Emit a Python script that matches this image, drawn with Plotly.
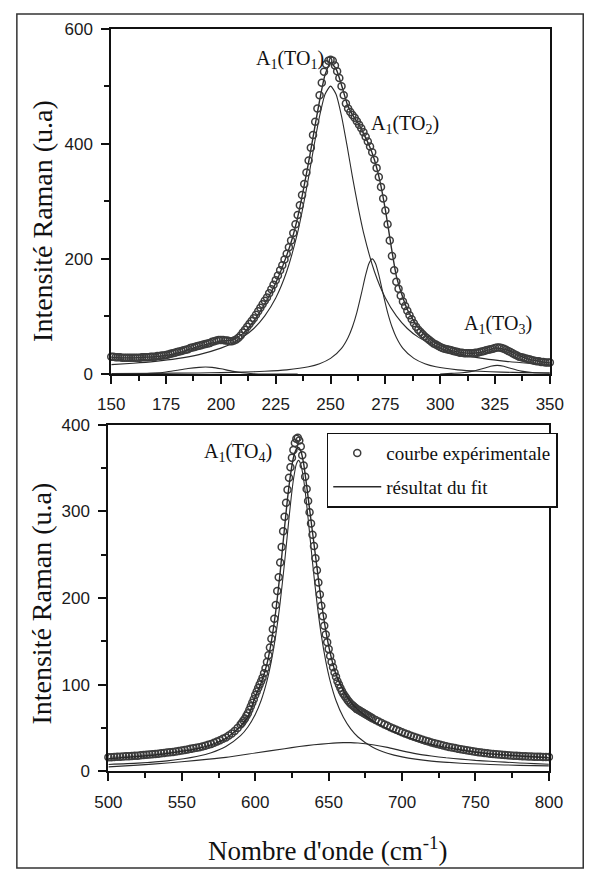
import plotly.graph_objects as go

# ---------------- top panel data (150-350 cm-1) ----------------
top_exp_x = list(range(150, 351))
top_exp_y = [
    30, 30, 29, 29, 29, 28, 28, 28, 28, 28,
    28, 28, 28, 28, 29, 29, 29, 29, 30, 30,
    30, 31, 31, 32, 32, 33, 34, 35, 36, 37,
    38, 39, 40, 41, 42, 43, 45, 46, 47, 48,
    49, 50, 51, 52, 53, 54, 56, 57, 58, 59,
    59, 59, 58, 58, 57, 57, 58, 60, 63, 67,
    72, 77, 82, 87, 92, 97, 103, 109, 115, 121,
    127, 133, 140, 147, 155, 163, 171, 180, 189, 199,
    209, 220, 232, 245, 260, 276, 293, 311, 330, 350,
    371, 393, 415, 438, 461, 484, 506, 525, 538, 544,
    546, 544, 536, 526, 514, 500, 484, 470, 461, 455,
    450, 445, 439, 433, 427, 420, 412, 404, 395, 385,
    372, 358, 342, 325, 305, 284, 260, 232, 205, 180,
    160, 148, 136, 126, 118, 110, 102, 95, 88, 82,
    77, 73, 69, 65, 62, 59, 56, 53, 51, 49,
    47, 45, 44, 43, 42, 41, 40, 39, 38, 37,
    37, 36, 36, 36, 36, 36, 37, 37, 38, 39,
    40, 41, 42, 43, 44, 45, 46, 46, 45, 44,
    42, 40, 38, 36, 34, 32, 30, 29, 28, 27,
    26, 25, 24, 23, 22, 22, 21, 21, 20, 20,
    20,
]

top_fit_x = [150, 155, 160, 165, 170, 175, 180, 185, 190, 195, 200, 205, 210, 215, 220, 225, 230,
             232.5, 235, 237.5, 240, 242.5, 245, 247.5, 250, 252.5, 255, 257.5, 260, 262.5, 265,
             267.5, 270, 272.5, 275, 277.5, 280, 282.5, 285, 287.5, 290,
             295, 300, 305, 310, 315, 320, 325, 330, 335, 340, 345, 350]
top_fit_y = [29, 28, 28, 29, 30, 32, 36, 42, 48, 53, 57, 59, 70, 92, 122, 158, 206,
             235, 272, 318, 368, 422, 475, 520, 540, 530, 502, 470, 450, 436, 418,
             398, 372, 335, 285, 225, 170, 138, 112, 95, 80,
             62, 49, 41, 37, 36, 39, 45, 42, 33, 26, 22, 19]

top_p1_x = [150, 160, 170, 180, 190, 200, 205, 210, 215, 220, 225, 230, 235, 237.5, 240, 242.5,
            245, 247.5, 250, 252.5, 255, 257.5, 260, 262.5, 265, 270, 275, 280, 285, 290,
            300, 310, 320, 330, 340, 350]
top_p1_y = [16.3, 18.7, 21.9, 26.6, 33.6, 44.9, 53, 64, 79, 101, 132, 178, 246, 291, 342, 397,
            448, 486, 500, 486, 448, 397, 342, 291, 246, 178, 132, 101, 79, 64,
            45, 33.6, 26.6, 21.9, 18.7, 16.3]

top_p2_x = [150, 170, 190, 200, 210, 220, 230, 240, 245, 250, 255, 258, 260, 262, 264, 266,
            267.5, 269, 270.5, 272, 274, 276, 278, 280, 283, 288, 293, 298, 308, 318, 328, 338, 350]
top_p2_y = [0.8, 1.1, 1.8, 2.3, 3.2, 4.6, 7.1, 12.5, 17.8, 27, 44.6, 63.5, 82, 107, 138.5, 172,
            192, 200, 192, 172, 138.5, 107, 82, 63.5, 44.6, 27, 17.8, 12.5, 7.1, 4.6, 3.2, 2.3, 1.7]

top_p0_x = [150, 165, 170, 175, 180, 185, 190, 193, 196, 200, 205, 210, 215, 220, 235]
top_p0_y = [0, 0.5, 1.5, 3.5, 6.5, 9.5, 11.5, 12, 11.5, 9, 5, 2, 0.5, 0, 0]

top_p3_x = [300, 305, 310, 315, 320, 323, 326, 329, 332, 337, 342, 350]
top_p3_y = [0, 1, 2, 5, 10, 13.5, 15, 13.5, 10, 5, 2.5, 1.5]

# ---------------- bottom panel data (500-800 cm-1) ----------------
bot_exp_x = list(range(500, 591, 2)) + list(range(591, 681)) + list(range(682, 801, 2))
bot_exp_y = [
    # 500-590 step 2
    16, 16.2, 16.4, 16.6, 16.8, 17, 17.2, 17.4, 17.6, 17.8,
    18, 18.4, 18.8, 19.1, 19.3, 19.5, 19.9, 20.3, 20.7, 21.1,
    21.5, 21.9, 22.3, 22.8, 23.4, 24, 24.6, 25.2, 25.8, 26.4,
    27, 27.8, 28.6, 29.5, 30.5, 31.5, 32.8, 34.2, 35.8, 37.4,
    39, 41.2, 43.6, 46.5, 50, 54,
    # 591-680 step 1
    56, 58.5, 61, 64, 67, 71, 75, 79, 83, 88,
    92, 96, 100, 104, 108, 113, 119, 126, 134, 143,
    153, 164, 176, 192, 208, 224, 241, 259, 277, 294,
    310, 325, 339, 351, 362, 371, 379, 384, 385, 382,
    375, 365, 353, 340, 326, 312, 299, 286, 273, 260,
    246, 232, 218, 204, 191, 179, 168, 158, 149, 141,
    133, 126, 120, 114, 109, 104, 100, 96, 92.5, 89.5,
    87, 84.5, 82, 80, 78, 76.5, 75, 73.5, 72, 71,
    70, 69, 68, 67, 66, 65, 64, 63, 62, 61,
    # 682-800 step 2
    59.2, 57.4, 55.7, 54, 52.4, 50.8, 49.3, 47.8, 46.4, 45,
    43.6, 42.3, 41, 39.8, 38.6, 37.4, 36.3, 35.2, 34.2, 33.2,
    32.3, 31.4, 30.5, 29.7, 28.9, 28.1, 27.4, 26.7, 26, 25.3,
    24.7, 24.1, 23.5, 23, 22.5, 22, 21.5, 21.1, 20.7, 20.3,
    19.9, 19.6, 19.3, 19, 18.7, 18.4, 18.2, 18, 17.8, 17.6,
    17.4, 17.2, 17, 16.9, 16.8, 16.7, 16.6, 16.5, 16.4, 16.3,
]

bot_comp_x = [500, 520, 540, 560, 570, 580, 590, 595, 600, 604, 608, 611, 614, 617, 620, 622, 624,
              626, 628, 629.5, 631, 633, 635, 637, 639, 642, 645, 648, 651, 655, 660, 665, 670,
              680, 690, 700, 720, 740, 760, 780, 800]
bot_sharp_y = [7.8, 9.3, 11.9, 16.9, 21.4, 28.6, 41.1, 51.1, 65.5, 81.7, 104.4, 127.4, 157.1,
               195.2, 241.4, 275.3, 308.5, 336.6, 354.7, 359, 354.7, 336.6, 308.5, 275.3, 241.4,
               195.2, 157.1, 127.4, 104.4, 81.7, 62.2, 48.9, 39.5, 27.7, 20.8, 16.6, 11.7, 9.2,
               7.8, 6.8, 6.2]
bot_fit_y = [14.5, 17, 20.5, 26, 30.5, 38, 52, 63, 86, 102, 124, 150, 185, 230, 282, 315, 342,
             362, 372, 374, 370, 355, 330, 303, 276, 236, 196, 163, 137, 112, 93, 80, 71,
             58, 49, 41.5, 31, 24.5, 20, 17.5, 15.5]

bot_broad_x = [500, 520, 540, 560, 580, 600, 620, 630, 640, 650, 660, 665, 670, 680, 690, 700,
               710, 720, 730, 740, 750, 760, 770, 780, 790, 800]
bot_broad_y = [5, 7, 9.5, 12.5, 16, 21, 26, 28.5, 30.5, 32, 33, 33, 32.5, 30.5, 27.5, 23.5,
               20, 17.5, 15.5, 14, 12.5, 11.5, 10.5, 9.5, 8.8, 8]

# ---------------- text ----------------
y_title = "Intensité Raman (u.a)"
x_title = "Nombre d'onde (cm<sup>-1</sup>)"
peak_labels = ["A<sub>1</sub>(TO<sub>1</sub>)", "A<sub>1</sub>(TO<sub>2</sub>)",
               "A<sub>1</sub>(TO<sub>3</sub>)", "A<sub>1</sub>(TO<sub>4</sub>)"]
legend_names = ["courbe expérimentale", "résultat du fit"]

W, H = 602, 882
def px(x):
    return x / W
def py(y):
    return 1 - y / H

SERIF = "Liberation Serif, Times New Roman, serif"
SANS = "Liberation Sans, Arial, sans-serif"
INK = "#2b2b2b"
MARK = "#3c3c3c"

fig = go.Figure()

line_thin = dict(color=INK, width=1.1, shape="spline", smoothing=0.6)

# top panel traces
for xs, ys in [(top_p0_x, top_p0_y), (top_p1_x, top_p1_y), (top_p2_x, top_p2_y), (top_p3_x, top_p3_y)]:
    fig.add_trace(go.Scatter(x=xs, y=ys, mode="lines", line=line_thin, showlegend=False,
                             xaxis="x", yaxis="y", hoverinfo="skip"))
fig.add_trace(go.Scatter(x=top_fit_x, y=top_fit_y, mode="lines",
                         line=dict(color=INK, width=1.4, shape="spline", smoothing=0.6),
                         showlegend=False, xaxis="x", yaxis="y"))
fig.add_trace(go.Scatter(x=top_exp_x, y=top_exp_y, mode="markers",
                         marker=dict(symbol="circle-open", size=7, color=MARK, line=dict(width=1.5)),
                         showlegend=False, xaxis="x", yaxis="y", cliponaxis=False))

# bottom panel traces
fig.add_trace(go.Scatter(x=bot_broad_x, y=bot_broad_y, mode="lines", line=line_thin,
                         showlegend=False, xaxis="x2", yaxis="y2"))
fig.add_trace(go.Scatter(x=bot_comp_x, y=bot_sharp_y, mode="lines", line=line_thin,
                         showlegend=False, xaxis="x2", yaxis="y2"))
fig.add_trace(go.Scatter(x=bot_exp_x, y=bot_exp_y, mode="markers", name=legend_names[0],
                         marker=dict(symbol="circle-open", size=7, color=MARK, line=dict(width=1.5)),
                         legendgroup="a", xaxis="x2", yaxis="y2", cliponaxis=False))
fig.add_trace(go.Scatter(x=bot_comp_x, y=bot_fit_y, mode="lines", name=legend_names[1],
                         line=dict(color=INK, width=1.4, shape="spline", smoothing=0.6),
                         legendgroup="b", xaxis="x2", yaxis="y2"))

axis_common = dict(showline=True, linecolor="#111", linewidth=2, mirror=True,
                   ticks="outside", ticklen=8, tickwidth=2, tickcolor="#111",
                   showgrid=False, zeroline=False,
                   tickfont=dict(family=SANS, size=17, color="#1a1a1a"))

fig.update_layout(
    width=W, height=H,
    margin=dict(l=0, r=0, t=0, b=0),
    paper_bgcolor="white", plot_bgcolor="white",
    xaxis=dict(domain=[px(102), px(562)], range=[150, 350], anchor="y",
               tick0=150, dtick=25, ticklabelstandoff=6,
               minor=dict(dtick=12.5, ticks="outside", ticklen=5, tickwidth=1.5, tickcolor="#111"),
               **axis_common),
    yaxis=dict(domain=[py(373), py(20)], range=[0, 600], anchor="x",
               tick0=0, dtick=200, ticklabelstandoff=5,
               minor=dict(dtick=100, ticks="outside", ticklen=5, tickwidth=1.5, tickcolor="#111"),
               **axis_common),
    xaxis2=dict(domain=[px(99), px(561)], range=[500, 800], anchor="y2",
                tick0=500, dtick=50, ticklabelstandoff=6,
                minor=dict(dtick=25, ticks="outside", ticklen=5, tickwidth=1.5, tickcolor="#111"),
                **axis_common),
    yaxis2=dict(domain=[py(779), py(425)], range=[0, 400], anchor="x2",
                tick0=0, dtick=100, ticklabelstandoff=5,
                minor=dict(dtick=50, ticks="outside", ticklen=5, tickwidth=1.5, tickcolor="#111"),
                **axis_common),
    showlegend=True,
    legend=dict(x=px(328), y=py(433), xanchor="left", yanchor="top",
                bgcolor="white", bordercolor="#111", borderwidth=1.5,
                font=dict(family=SERIF, size=19, color="#111"),
                traceorder="grouped", tracegroupgap=6, itemwidth=48),
    shapes=[dict(type="rect", xref="paper", yref="paper",
                 x0=px(3), x1=px(597), y0=py(878), y1=py(5),
                 line=dict(color="#333", width=1.5))],
)

annos = [
    dict(text=y_title, x=px(30), y=py(217), textangle=-90, font=dict(family=SERIF, size=28, color="#111")),
    dict(text=y_title, x=px(29), y=py(608), textangle=-90, font=dict(family=SERIF, size=28, color="#111")),
    dict(text=x_title, x=px(329), y=py(858), font=dict(family=SERIF, size=27, color="#111")),
    dict(text=peak_labels[0], x=px(289), y=py(52), font=dict(family=SERIF, size=20, color="#111")),
    dict(text=peak_labels[1], x=px(410), y=py(118), font=dict(family=SERIF, size=20, color="#111")),
    dict(text=peak_labels[2], x=px(508), y=py(322), font=dict(family=SERIF, size=20, color="#111")),
    dict(text=peak_labels[3], x=px(235), y=py(453), font=dict(family=SERIF, size=20, color="#111")),
]
for a in annos:
    fig.add_annotation(xref="paper", yref="paper", showarrow=False,
                       xanchor="center", yanchor="middle", **a)

fig.write_html("out.html", config={"displayModeBar": False})
